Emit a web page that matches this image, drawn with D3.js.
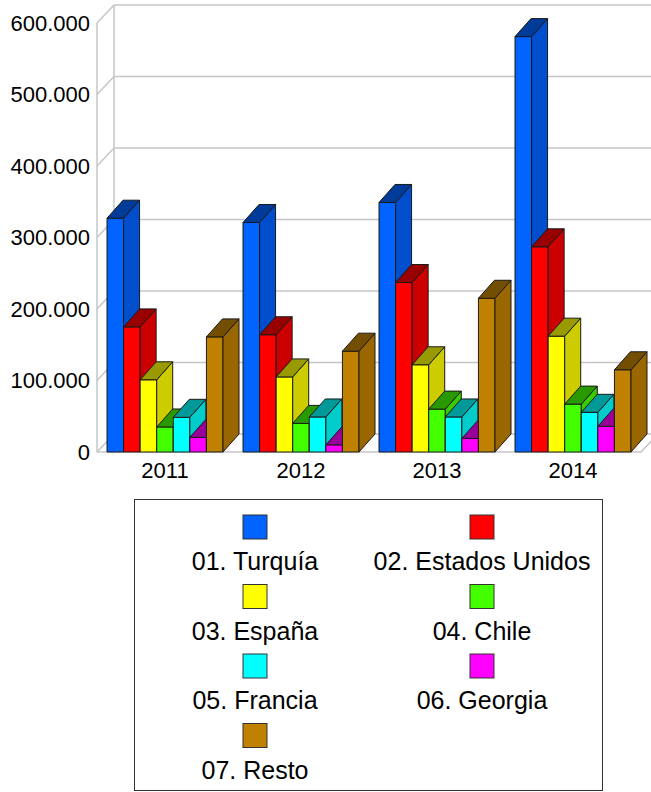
<!DOCTYPE html>
<html>
<head>
<meta charset="utf-8">
<script src="https://cdn.jsdelivr.net/npm/d3@7/dist/d3.min.js"></script>
<style>
  html, body { margin: 0; padding: 0; background: #fff; }
  svg { display: block; }
  text { font-family: "Liberation Sans", Arial, sans-serif; fill: #000; }
</style>
</head>
<body>
<svg id="chart" width="651" height="792"></svg>
<script>
// ---- data ----
const years = ["2011", "2012", "2013", "2014"];
const seriesNames = ["01. Turquía", "02. Estados Unidos", "03. España", "04. Chile", "05. Francia", "06. Georgia", "07. Resto"];
const seriesColors = ["#0062FF", "#FF0000", "#FFFF00", "#44FF00", "#00FFFF", "#FF00FF", "#C08000"];
const turquia       = [327000, 321000, 349000, 581000];
const estadosUnidos = [175000, 164000, 237000, 287000];
const espana        = [101000, 105000, 122000, 162000];
const chile         = [35000, 40000, 60000, 67000];
const francia       = [48500, 49000, 49000, 55500];
const georgia       = [20500, 10000, 19000, 36000];
const resto         = [161000, 141000, 215000, 115000];
const seriesValues = [turquia, estadosUnidos, espana, chile, francia, georgia, resto];
const yTicks = [0, 100000, 200000, 300000, 400000, 500000, 600000];

// ---- layout ----
const svg = d3.select("#chart");
const x0 = 97, x1 = 641, yBottom = 452, yTop = 23;
const wallDx = 17, wallDy = 18;   // depth of walls
const barDx = 16, barDy = 18;     // depth of bars

const x = d3.scaleBand().domain(years).range([x0, x1]).padding(0);
const xs = d3.scaleBand().domain(d3.range(seriesNames.length)).range([10, x.bandwidth() - 10]).padding(0);
const y = d3.scaleLinear().domain([0, 600000]).range([yBottom, yTop]);

const loc = d3.formatLocale({decimal: ",", thousands: ".", grouping: [3], currency: ["", "€"]});
const fmt = loc.format(",");

const gridColor = "#c6c6c6";
const walls = svg.append("g");

// back gridlines
walls.selectAll("line.grid").data(yTicks).join("line")
  .attr("x1", x0 + wallDx).attr("x2", x1 + wallDx + 20)
  .attr("y1", d => y(d) - wallDy).attr("y2", d => y(d) - wallDy)
  .attr("stroke", gridColor).attr("stroke-width", 1.5);
// left wall diagonals
walls.selectAll("line.diag").data(yTicks).join("line")
  .attr("x1", x0).attr("x2", x0 + wallDx)
  .attr("y1", d => y(d)).attr("y2", d => y(d) - wallDy)
  .attr("stroke", gridColor).attr("stroke-width", 1.5);
// left wall verticals
walls.append("line").attr("x1", x0).attr("x2", x0).attr("y1", y(600000)).attr("y2", y(0))
  .attr("stroke", gridColor).attr("stroke-width", 1.5);
walls.append("line").attr("x1", x0 + wallDx).attr("x2", x0 + wallDx).attr("y1", y(600000) - wallDy).attr("y2", y(0) - wallDy)
  .attr("stroke", gridColor).attr("stroke-width", 1.5);
// floor
walls.append("path")
  .attr("d", `M${x0},${y(0)} L${x1},${y(0)} L${x1 + wallDx},${y(0) - wallDy}`)
  .attr("fill", "none").attr("stroke", gridColor).attr("stroke-width", 1.5);

// ---- bars ----
function shade(c, k) {
  const r = d3.rgb(c);
  return d3.rgb(r.r * k, r.g * k, r.b * k).formatHex();
}
const bars = [];
years.forEach((yr, i) => {
  seriesNames.forEach((s, j) => {
    bars.push({yr, j, v: seriesValues[j][i]});
  });
});
const gBars = svg.append("g");
bars.forEach(b => {
  const bx = x(b.yr) + xs(b.j);
  const bw = xs.bandwidth();
  const top = y(b.v), bot = y(0);
  const c = seriesColors[b.j];
  const g = gBars.append("g").attr("stroke", "#1a1a1a").attr("stroke-width", 1).attr("stroke-linejoin", "round");
  g.append("rect").attr("x", bx).attr("y", top).attr("width", bw).attr("height", bot - top).attr("fill", c);
  g.append("path")
    .attr("d", `M${bx + bw},${bot} L${bx + bw},${top} L${bx + bw + barDx},${top - barDy} L${bx + bw + barDx},${bot - barDy} Z`)
    .attr("fill", shade(c, 0.8));
  g.append("path")
    .attr("d", `M${bx},${top} L${bx + barDx},${top - barDy} L${bx + bw + barDx},${top - barDy} L${bx + bw},${top} Z`)
    .attr("fill", shade(c, 0.6));
});

// ---- axes labels ----
svg.append("g").selectAll("text").data(yTicks).join("text")
  .attr("x", 90).attr("y", d => y(d)).attr("dy", "0.36em")
  .attr("text-anchor", "end").attr("font-size", 22)
  .text(d => fmt(d));
svg.append("g").selectAll("text").data(years).join("text")
  .attr("x", d => x(d) + x.bandwidth() / 2).attr("y", 478)
  .attr("text-anchor", "middle").attr("font-size", 22)
  .text(d => d);

// ---- legend ----
const lg = svg.append("g");
lg.append("rect").attr("x", 134.5).attr("y", 499.5).attr("width", 468).attr("height", 291)
  .attr("fill", "#fff").attr("stroke", "#333").attr("stroke-width", 1);
const colX = [255, 482];
const rowStep = 69.5;
seriesNames.forEach((s, j) => {
  const cx = colX[j % 2];
  const row = Math.floor(j / 2);
  const sy = 515 + row * rowStep;
  lg.append("rect").attr("x", cx - 12).attr("y", sy).attr("width", 24).attr("height", 24)
    .attr("fill", seriesColors[j]).attr("stroke", "#333").attr("stroke-width", 1);
  lg.append("text").attr("x", cx).attr("y", sy + 55).attr("text-anchor", "middle")
    .attr("font-size", 25).text(s);
});
</script>
</body>
</html>
